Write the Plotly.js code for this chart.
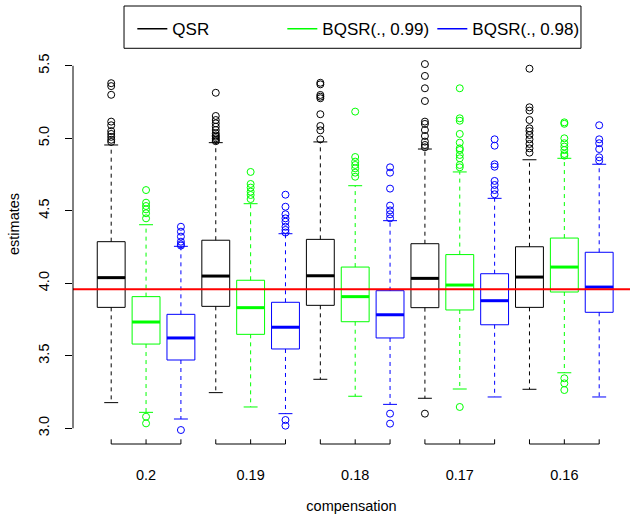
<!DOCTYPE html>
<html><head><meta charset="utf-8">
<script src="https://cdn.plot.ly/plotly-3.0.1.min.js"></script>
<style>html,body{margin:0;padding:0;background:#fff}#chart{width:630px;height:514px}</style>
</head><body><div id="chart"></div>
<script>
// ---- data ----
const groups = ['0.2', '0.19', '0.18', '0.17', '0.16'];
const seriesNames = ['QSR', 'BQSR(., 0.99)', 'BQSR(., 0.98)'];
const seriesColors = ['#000000', '#00FF00', '#0000FF'];

const qsrQ1  = [3.834, 3.841, 3.848, 3.832, 3.834];
const qsrMed = [4.039, 4.050, 4.052, 4.034, 4.043];
const qsrQ3  = [4.287, 4.297, 4.303, 4.273, 4.252];
const qsrLo  = [3.177, 3.246, 3.338, 3.207, 3.269];
const qsrHi  = [4.954, 4.970, 4.975, 4.926, 4.852];
const qsrOut = [
  [5.38, 5.36, 5.30, 5.115, 5.09, 5.05, 5.03, 5.01, 4.99, 4.975],
  [5.314, 5.154, 5.126, 5.103, 5.08, 5.057, 5.034, 5.02, 5.011, 5.0, 4.988, 4.98],
  [5.383, 5.372, 5.299, 5.287, 5.276, 5.166, 5.085, 5.055, 4.993],
  [5.512, 5.43, 5.345, 5.257, 5.115, 5.099, 5.057, 5.016, 4.977, 4.954, 4.938, 3.101],
  [5.48, 5.214, 5.191, 5.126, 5.069, 5.05, 5.023, 4.993, 4.961, 4.931, 4.901]
];

const b99Q1  = [3.581, 3.648, 3.735, 3.816, 3.940];
const b99Med = [3.733, 3.832, 3.908, 3.988, 4.112];
const b99Q3  = [3.908, 4.021, 4.112, 4.198, 4.312];
const b99Lo  = [3.110, 3.147, 3.221, 3.271, 3.383];
const b99Hi  = [4.404, 4.549, 4.673, 4.768, 4.862];
const b99Out = [
  [4.643, 4.556, 4.533, 4.510, 4.483, 4.448, 3.080, 3.034],
  [4.768, 4.685, 4.660, 4.632, 4.609, 4.581],
  [5.184, 4.871, 4.839, 4.816, 4.793, 4.763, 4.735],
  [5.345, 5.138, 5.121, 5.030, 4.970, 4.931, 4.919, 4.885, 4.862, 4.816, 4.800, 3.147],
  [5.110, 5.100, 5.000, 4.966, 4.943, 4.919, 4.892, 4.880, 3.345, 3.310, 3.264]
];

const b98Q1  = [3.471, 3.547, 3.623, 3.714, 3.800];
const b98Med = [3.623, 3.697, 3.783, 3.880, 3.974];
const b98Q3  = [3.786, 3.869, 3.949, 4.066, 4.214];
const b98Lo  = [3.064, 3.101, 3.165, 3.216, 3.216];
const b98Hi  = [4.255, 4.342, 4.432, 4.586, 4.821];
const b98Out = [
  [4.390, 4.356, 4.322, 4.287, 4.269, 4.260, 2.988],
  [4.611, 4.528, 4.476, 4.448, 4.425, 4.390, 4.368, 4.350, 3.057, 3.018],
  [4.800, 4.763, 4.653, 4.536, 4.503, 4.476, 4.448, 3.101, 3.032],
  [4.993, 4.949, 4.821, 4.804, 4.706, 4.678, 4.643, 4.614],
  [5.090, 4.993, 4.966, 4.926, 4.869, 4.846]
];

const refValue = 3.959;
const yTicks = [3.0, 3.5, 4.0, 4.5, 5.0, 5.5];

// ---- build traces ----
const stats = [
  {q1: qsrQ1, med: qsrMed, q3: qsrQ3, lo: qsrLo, hi: qsrHi, out: qsrOut},
  {q1: b99Q1, med: b99Med, q3: b99Q3, lo: b99Lo, hi: b99Hi, out: b99Out},
  {q1: b98Q1, med: b98Med, q3: b98Q3, lo: b98Lo, hi: b98Hi, out: b98Out}
];
const nS = seriesNames.length;
const BOXW = 0.8, HALF = BOXW / 2, STAP = BOXW / 4;
const traces = [];
const legendTraces = [];

stats.forEach((st, s) => {
  const col = seriesColors[s];
  const pos = groups.map((_, g) => g * nS + s + 1);
  traces.push({
    type: 'box', x: pos, q1: st.q1, median: st.med, q3: st.q3,
    lowerfence: st.q1, upperfence: st.q3,
    width: BOXW, whiskerwidth: 0, boxpoints: false,
    line: {color: col, width: 1}, fillcolor: 'rgba(255,255,255,1)',
    showlegend: false, hoverinfo: 'skip', name: seriesNames[s]
  });
  const wx = [], wy = [], sx = [], sy = [], mx = [], my = [], ox = [], oy = [];
  pos.forEach((p, g) => {
    wx.push(p, p, null, p, p, null);
    wy.push(st.q3[g], st.hi[g], null, st.q1[g], st.lo[g], null);
    sx.push(p - STAP, p + STAP, null, p - STAP, p + STAP, null);
    sy.push(st.hi[g], st.hi[g], null, st.lo[g], st.lo[g], null);
    mx.push(p - HALF, p + HALF, null);
    my.push(st.med[g], st.med[g], null);
    st.out[g].forEach(v => { ox.push(p); oy.push(v); });
  });
  traces.push({type: 'scatter', mode: 'lines', x: wx, y: wy, line: {color: col, width: 1, dash: '4px,4px'}, showlegend: false, hoverinfo: 'skip'});
  traces.push({type: 'scatter', mode: 'lines', x: sx, y: sy, line: {color: col, width: 1}, showlegend: false, hoverinfo: 'skip'});
  traces.push({type: 'scatter', mode: 'lines', x: mx, y: my, line: {color: col, width: 3}, showlegend: false, hoverinfo: 'skip'});
  traces.push({type: 'scatter', mode: 'markers', x: ox, y: oy, marker: {symbol: 'circle-open', size: 7, color: col, line: {width: 1}}, showlegend: false, hoverinfo: 'skip', cliponaxis: false});
  legendTraces.push({type: 'scatter', mode: 'lines', x: [null], y: [null], name: seriesNames[s], line: {color: col, width: 1.5}, showlegend: true});
});

// ---- shapes: reference line, y axis line, group brackets, legend frame ----
const shapes = [];
shapes.push({type: 'line', xref: 'paper', x0: 0, x1: 1, yref: 'y', y0: refValue, y1: refValue, line: {color: '#FF0000', width: 2}, layer: 'above'});
shapes.push({type: 'line', xref: 'paper', x0: 0, x1: 0, yref: 'y', y0: yTicks[0], y1: yTicks[yTicks.length - 1], line: {color: '#000', width: 1}});
const BR_Y = 0.0089, BR_T = 0.0194;
groups.forEach((_, g) => {
  const p0 = g * nS + 1, p1 = g * nS + nS;
  shapes.push({type: 'line', xref: 'x', x0: p0, x1: p1, yref: 'paper', y0: BR_Y, y1: BR_Y, line: {color: '#000', width: 1}});
  for (let s = 0; s < nS; s++) {
    shapes.push({type: 'line', xref: 'x', x0: p0 + s, x1: p0 + s, yref: 'paper', y0: BR_Y, y1: BR_T, line: {color: '#000', width: 1}});
  }
});
shapes.push({type: 'rect', xref: 'paper', yref: 'paper', x0: 0.0916, x1: 0.912, y0: 0.8922, y1: 0.9866, line: {color: '#000', width: 1}, fillcolor: 'rgba(0,0,0,0)'});

const layout = {
  width: 630, height: 514,
  margin: {l: 73, r: 0, t: 0, b: 66},
  paper_bgcolor: '#fff', plot_bgcolor: '#fff',
  font: {family: 'Liberation Sans, Arial, sans-serif', size: 14.5, color: '#000'},
  showlegend: true,
  xaxis: {
    range: [-0.096, 15.884], tickvals: groups.map((_, g) => g * nS + 2), ticktext: groups,
    ticks: '', showgrid: false, zeroline: false, showline: false,
    ticklabelstandoff: 16,
    title: {text: 'compensation', standoff: 19, font: {size: 14.5}}
  },
  yaxis: {
    range: [2.8641, 5.9538], tickvals: yTicks, ticktext: yTicks.map(v => v.toFixed(1)),
    ticks: 'outside', ticklen: 7, tickwidth: 1, tickcolor: '#000', tickangle: -90,
    showgrid: false, zeroline: false, showline: false,
    ticklabelstandoff: 10,
    title: {text: 'estimates', standoff: 13, font: {size: 14.5}}
  },
  legend: {
    orientation: 'h', x: 0.1065, xanchor: 'left', y: 0.975, yanchor: 'top',
    bgcolor: 'rgba(0,0,0,0)', borderwidth: 0, entrywidth: 105, entrywidthmode: 'pixels',
    font: {size: 17}
  },
  shapes: shapes
};

Plotly.newPlot('chart', traces.concat(legendTraces), layout, {staticPlot: true});
</script></body></html>
